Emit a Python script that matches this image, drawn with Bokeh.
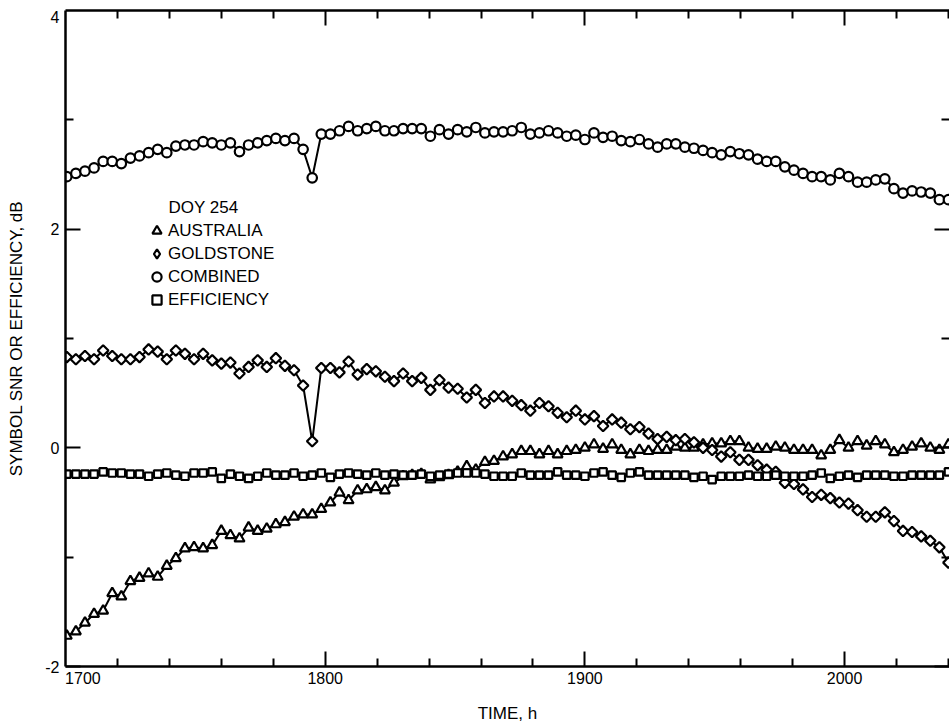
from bokeh.plotting import figure
from bokeh.models import (Range1d, LinearAxis, FixedTicker, Legend,
                          LegendItem, Label)
from bokeh.embed import file_html
from bokeh.resources import INLINE
import numpy as np
import math

# ---------------- data ----------------
TIME = [1700.5, 1704, 1707.5, 1711, 1714.5, 1718, 1721.5, 1725, 1728.5, 1732,
        1735.5, 1739, 1742.5, 1746, 1749.5, 1753, 1756.5, 1760, 1763.5, 1767,
        1770.5, 1774, 1777.5, 1781, 1784.5, 1788, 1791.5, 1795, 1798.5, 1802,
        1805.5, 1809, 1812.5, 1816, 1819.5, 1823, 1826.5, 1830, 1833.5, 1837,
        1840.5, 1844, 1847.5, 1851, 1854.5, 1858, 1861.5, 1865, 1868.5, 1872,
        1875.5, 1879, 1882.5, 1886, 1889.5, 1893, 1896.5, 1900, 1903.5, 1907,
        1910.5, 1914, 1917.5, 1921, 1924.5, 1928, 1931.5, 1935, 1938.5, 1942,
        1945.5, 1949, 1952.5, 1956, 1959.5, 1963, 1966.5, 1970, 1973.5, 1977,
        1980.5, 1984, 1987.5, 1991, 1994.5, 1998, 2001.5, 2005, 2008.5, 2012,
        2015.5, 2019, 2022.5, 2026, 2029.5, 2033, 2036.5, 2040]

COMBINED = [2.48, 2.51, 2.53, 2.56, 2.62, 2.62, 2.60, 2.65, 2.67, 2.70,
            2.73, 2.70, 2.76, 2.77, 2.77, 2.80, 2.79, 2.77, 2.79, 2.71,
            2.77, 2.79, 2.81, 2.83, 2.81, 2.83, 2.73, 2.47, 2.87, 2.87,
            2.90, 2.94, 2.90, 2.92, 2.94, 2.90, 2.90, 2.92, 2.92, 2.92,
            2.85, 2.91, 2.87, 2.91, 2.89, 2.93, 2.88, 2.89, 2.89, 2.90,
            2.93, 2.87, 2.88, 2.90, 2.88, 2.85, 2.86, 2.82, 2.88, 2.84,
            2.85, 2.81, 2.80, 2.82, 2.78, 2.75, 2.78, 2.78, 2.75, 2.74,
            2.72, 2.70, 2.68, 2.71, 2.69, 2.68, 2.64, 2.62, 2.62, 2.57,
            2.54, 2.51, 2.48, 2.48, 2.45, 2.51, 2.48, 2.43, 2.43, 2.45,
            2.46, 2.37, 2.33, 2.35, 2.34, 2.33, 2.27, 2.27]

GOLDSTONE = [0.83, 0.81, 0.84, 0.81, 0.89, 0.84, 0.81, 0.81, 0.83, 0.90,
             0.88, 0.81, 0.89, 0.86, 0.81, 0.86, 0.80, 0.77, 0.78, 0.68,
             0.74, 0.80, 0.74, 0.82, 0.75, 0.71, 0.57, 0.06, 0.73, 0.73,
             0.69, 0.79, 0.67, 0.72, 0.70, 0.65, 0.61, 0.68, 0.61, 0.64,
             0.53, 0.62, 0.55, 0.54, 0.46, 0.53, 0.41, 0.47, 0.47, 0.43,
             0.39, 0.34, 0.41, 0.38, 0.32, 0.28, 0.34, 0.26, 0.29, 0.20,
             0.26, 0.23, 0.17, 0.19, 0.13, 0.08, 0.10, 0.07, 0.08, 0.05,
             0.00, -0.02, -0.08, -0.04, -0.11, -0.11, -0.16, -0.20, -0.22, -0.32,
             -0.33, -0.38, -0.45, -0.43, -0.46, -0.50, -0.51, -0.57, -0.63, -0.63,
             -0.59, -0.67, -0.76, -0.77, -0.81, -0.85, -0.91, -1.05]

AUSTRALIA = [-1.72, -1.68, -1.60, -1.52, -1.49, -1.33, -1.36, -1.22, -1.19, -1.15,
             -1.18, -1.08, -1.01, -0.92, -0.91, -0.92, -0.89, -0.76, -0.80, -0.83,
             -0.73, -0.76, -0.74, -0.70, -0.68, -0.63, -0.61, -0.61, -0.56, -0.50,
             -0.41, -0.48, -0.39, -0.38, -0.36, -0.39, -0.32, -0.26, -0.25, -0.24,
             -0.29, -0.27, -0.25, -0.22, -0.17, -0.20, -0.13, -0.12, -0.08, -0.06,
             -0.03, -0.03, -0.06, -0.03, -0.06, -0.03, -0.02, 0.00, 0.03, -0.01,
             0.03, -0.02, -0.06, -0.02, -0.03, -0.02, -0.02, 0.01, 0.00, 0.00,
             0.03, 0.04, 0.04, 0.06, 0.06, 0.00, -0.01, -0.01, 0.01, 0.00,
             -0.02, -0.02, -0.02, -0.07, -0.02, 0.07, 0.00, 0.06, 0.02, 0.06,
             0.03, -0.04, -0.02, 0.01, 0.04, 0.00, -0.02, 0.03]

EFFICIENCY = [-0.24, -0.24, -0.24, -0.24, -0.22, -0.23, -0.23, -0.24, -0.24, -0.26,
              -0.24, -0.23, -0.25, -0.26, -0.23, -0.23, -0.22, -0.28, -0.24, -0.26,
              -0.28, -0.26, -0.23, -0.25, -0.25, -0.23, -0.26, -0.25, -0.23, -0.27,
              -0.24, -0.23, -0.24, -0.25, -0.23, -0.25, -0.24, -0.25, -0.25, -0.24,
              -0.26, -0.25, -0.24, -0.23, -0.23, -0.23, -0.24, -0.26, -0.26, -0.26,
              -0.23, -0.25, -0.25, -0.25, -0.22, -0.25, -0.25, -0.26, -0.23, -0.22,
              -0.25, -0.27, -0.23, -0.22, -0.25, -0.25, -0.25, -0.25, -0.25, -0.27,
              -0.26, -0.29, -0.26, -0.26, -0.26, -0.25, -0.26, -0.26, -0.25, -0.26,
              -0.26, -0.26, -0.25, -0.23, -0.28, -0.26, -0.25, -0.27, -0.25, -0.25,
              -0.25, -0.26, -0.26, -0.25, -0.25, -0.25, -0.25, -0.22]

SERIES_NAMES = ["AUSTRALIA", "GOLDSTONE", "COMBINED", "EFFICIENCY"]
LEGEND_TITLE = "DOY 254"
X_LABEL = "TIME, h"
Y_LABEL = "SYMBOL SNR OR EFFICIENCY, dB"

# tick values and their printed labels
X_MAJOR = [1800, 1900, 2000]
X_MINOR = [1720, 1740, 1760, 1780, 1820, 1840, 1860, 1880,
           1920, 1940, 1960, 1980, 2020, 2040]
X_TICK_LABELS = {1800: "1800", 1900: "1900", 2000: "2000"}
Y_MAJOR = [-2, 0, 2]
Y_MINOR = [-1, 1, 3]
Y_TICK_LABELS = {-2: "-2", 0: "0", 2: "2"}

# the corner labels of the reference sit just inside their corner ticks
X_CORNER_LABEL = "1700"
X_CORNER_LABEL_AT = 1706.7
Y_CORNER_LABEL = "4"
Y_CORNER_LABEL_AT = 3.94

FONT = "Liberation Sans"
INK = "black"

p = figure(width=949, height=725, output_backend="svg", toolbar_location=None,
           x_range=Range1d(1700, 2040.4), y_range=Range1d(-2, 4),
           x_axis_type=None, y_axis_type=None,
           min_border_left=65, min_border_right=0, min_border_top=10,
           min_border_bottom=58)
p.outline_line_color = None
p.background_fill_color = "white"
p.border_fill_color = "white"


def base_axis(ticker, line=True):
    ax = LinearAxis(ticker=ticker)
    ax.axis_line_color = INK if line else None
    ax.axis_line_width = 2.5
    ax.major_tick_in = 15
    ax.major_tick_out = 0
    ax.minor_tick_in = 8
    ax.minor_tick_out = 0
    ax.major_tick_line_width = 2
    ax.minor_tick_line_width = 2
    ax.major_tick_line_color = INK
    ax.minor_tick_line_color = INK
    ax.major_label_text_font = FONT
    ax.major_label_text_font_size = "16px"
    ax.major_label_text_color = INK
    ax.axis_label_text_font = FONT
    ax.axis_label_text_font_style = "normal"
    ax.axis_label_text_color = INK
    ax.axis_label_text_font_size = "17px"
    return ax


def long_ticks(values):
    # zero-size axis that only draws the long (major-length) tick marks
    ax = base_axis(FixedTicker(ticks=[], minor_ticks=values), line=False)
    ax.minor_tick_in = 15
    return ax


# ---- bottom ----
p.add_layout(long_ticks(X_MAJOR), "below")
xb = base_axis(FixedTicker(ticks=[X_CORNER_LABEL_AT] + X_MAJOR, minor_ticks=X_MINOR))
xb.major_tick_line_color = None
xb.major_label_overrides = {X_CORNER_LABEL_AT: X_CORNER_LABEL, **X_TICK_LABELS}
xb.major_label_standoff = 5
xb.axis_label = X_LABEL
xb.axis_label_standoff = 17
p.add_layout(xb, "below")

# ---- left ----
p.add_layout(long_ticks(Y_MAJOR), "left")
yl = base_axis(FixedTicker(ticks=Y_MAJOR + [Y_CORNER_LABEL_AT], minor_ticks=Y_MINOR))
yl.major_tick_line_color = None
yl.major_label_overrides = {Y_CORNER_LABEL_AT: Y_CORNER_LABEL, **Y_TICK_LABELS}
yl.major_label_standoff = 6
yl.axis_label = Y_LABEL
yl.axis_label_standoff = 16
p.add_layout(yl, "left")

# ---- top: spine with short and long inward ticks ----
p.add_layout(long_ticks(X_MAJOR), "above")
xt = base_axis(FixedTicker(ticks=[], minor_ticks=X_MINOR))
p.add_layout(xt, "above")

# ---- right: inward ticks only (spine lies just past the picture edge) ----
p.add_layout(long_ticks(Y_MAJOR), "right")
yr = base_axis(FixedTicker(ticks=[], minor_ticks=Y_MINOR), line=False)
p.add_layout(yr, "right")

LW = 2
MLW = 2.2
series = [
    (AUSTRALIA, "triangle", 10.0, 0.0),
    (GOLDSTONE, "square", 7.5, math.pi / 4),
    (COMBINED, "circle", 9.5, 0.0),
    (EFFICIENCY, "square", 7.5, 0.0),
]
for vals, marker, size, ang in series:
    p.line(TIME, vals, line_color=INK, line_width=LW)
renderers = []
for vals, marker, size, ang in series:
    r = p.scatter(TIME, vals, marker=marker, size=size, angle=ang,
                  fill_color="white", line_color=INK, line_width=MLW)
    renderers.append(r)

# legend key for Goldstone: a diamond (the legend cannot rotate a square);
# its one point is NaN so it draws nothing on the plot itself
key_diamond = p.scatter(np.array([np.nan]), np.array([np.nan]), marker="diamond",
                        size=10, fill_color="white", line_color=INK, line_width=MLW)
legend_renderers = [renderers[0], key_diamond, renderers[2], renderers[3]]

legend = Legend(items=[LegendItem(label=n, renderers=[r])
                       for n, r in zip(SERIES_NAMES, legend_renderers)],
                location=(80, 355), orientation="vertical",
                padding=0, margin=0, spacing=0,
                glyph_width=23, glyph_height=23, label_height=23,
                label_standoff=0, label_text_font=FONT,
                label_text_font_size="17px", label_text_color=INK,
                border_line_color=None, background_fill_alpha=0)
p.add_layout(legend)

p.add_layout(Label(x=103, y=459, x_units="screen", y_units="screen",
                   text=LEGEND_TITLE, text_baseline="middle", text_font=FONT,
                   text_font_size="17px", text_color=INK))

open("out.html", "w").write(file_html(p, INLINE))
